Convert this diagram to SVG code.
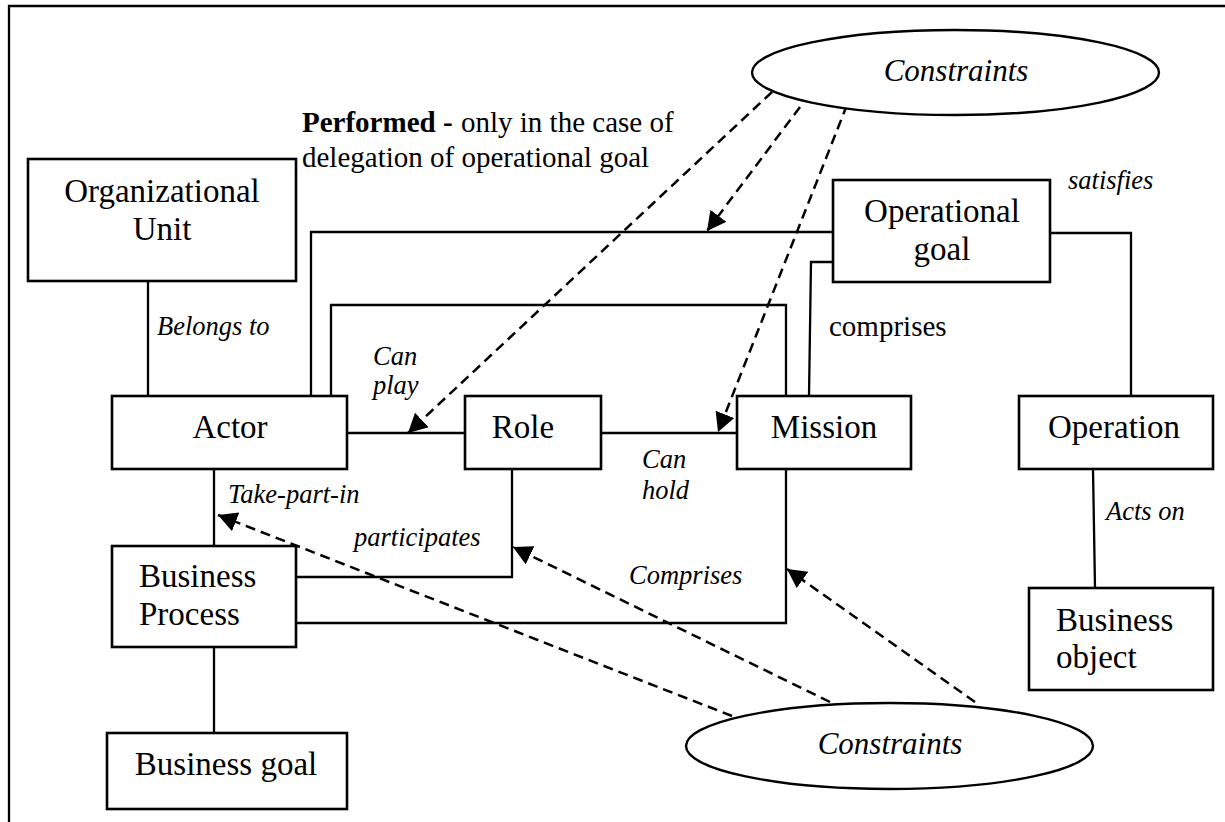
<svg xmlns="http://www.w3.org/2000/svg" width="1225" height="822" viewBox="0 0 1225 822">
<style>
.box{fill:#fff;stroke:#000;stroke-width:2.6}
.ell{fill:#fff;stroke:#000;stroke-width:2.4}
.ln{fill:none;stroke:#000;stroke-width:2.3}
.dash{fill:none;stroke:#000;stroke-width:2.5;stroke-dasharray:10 6;marker-end:url(#ah)}
text{font-family:"Liberation Serif","Times New Roman",serif;fill:#000}
.nt{font-size:33px}
.ntc{font-size:33px;text-anchor:middle}
.lab{font-size:26.5px;font-style:italic}
.reg{font-size:29px}
.con{font-size:31px;font-style:italic;text-anchor:middle}
</style>
<defs>
<marker id="ah" markerUnits="userSpaceOnUse" markerWidth="22" markerHeight="22" refX="19" refY="10" orient="auto">
<path d="M0,0 L19,10 L0,20 z" fill="#000"/>
</marker>
</defs>
<rect width="1225" height="822" fill="#fff"/>
<path class="ln" d="M9,822 L9,6 L1225,6"/>

<g id="connectors">
<path class="ln" d="M148,281 L148,396"/>
<path class="ln" d="M311,396 L311,232 L833,232"/>
<path class="ln" d="M331,396 L331,305 L786,305 L786,396"/>
<path class="ln" d="M809,396 L811,262 L833,262"/>
<path class="ln" d="M1050,233 L1131,233 L1131,396"/>
<path class="ln" d="M347,433 L465,433"/>
<path class="ln" d="M601,433 L737,433"/>
<path class="ln" d="M1093,469 L1095,588"/>
<path class="ln" d="M214,469 L214,546"/>
<path class="ln" d="M512,469 L512,577 L296,577"/>
<path class="ln" d="M296,623 L786,623 L786,469"/>
<path class="ln" d="M214,647 L214,733"/>
<path class="dash" d="M772,92 L408,433"/>
<path class="dash" d="M800,107 L707,231"/>
<path class="dash" d="M847,105 L718,432"/>
<path class="dash" d="M732,716 L218,515"/>
<path class="dash" d="M830,702 L513,547"/>
<path class="dash" d="M975,702 L787,569"/>
</g>

<g id="labels">
<text x="302" y="132" class="reg"><tspan font-weight="bold">Performed -</tspan><tspan x="461">only in the case of</tspan></text>
<text x="302" y="167" class="reg">delegation of operational goal</text>
<text x="1068" y="189" class="lab">satisfies</text>
<text x="157" y="335" class="lab">Belongs to</text>
<text x="829" y="336" class="reg">comprises</text>
<text x="373" y="365" class="lab">Can</text>
<text x="373" y="394" class="lab">play</text>
<text x="642" y="468" class="lab">Can</text>
<text x="642" y="499" class="lab">hold</text>
<text x="228" y="503" class="lab">Take-part-in</text>
<text x="1106" y="520" class="lab">Acts on</text>
<text x="354" y="546" class="lab">participates</text>
<text x="629" y="584" class="lab">Comprises</text>
</g>

<g id="constraints-top">
<ellipse class="ell" cx="955.5" cy="72.5" rx="203.5" ry="42.5"/>
<text x="956" y="81" class="con">Constraints</text>
</g>
<g id="constraints-bottom">
<ellipse class="ell" cx="889.5" cy="746" rx="203.5" ry="43"/>
<text x="890" y="754" class="con">Constraints</text>
</g>

<g id="organizational-unit">
<rect class="box" x="28" y="159" width="268" height="122"/>
<text x="162" y="202" class="ntc">Organizational</text>
<text x="162" y="240" class="ntc">Unit</text>
</g>
<g id="operational-goal">
<rect class="box" x="833" y="180" width="217" height="102"/>
<text x="942" y="222" class="ntc">Operational</text>
<text x="942" y="260" class="ntc">goal</text>
</g>
<g id="actor">
<rect class="box" x="112" y="396" width="235" height="73"/>
<text x="230" y="438" class="ntc">Actor</text>
</g>
<g id="role">
<rect class="box" x="465" y="396" width="136" height="73"/>
<text x="523" y="438" class="ntc">Role</text>
</g>
<g id="mission">
<rect class="box" x="737" y="396" width="174" height="73"/>
<text x="824" y="438" class="ntc">Mission</text>
</g>
<g id="operation">
<rect class="box" x="1019" y="396" width="194" height="73"/>
<text x="1114" y="438" class="ntc">Operation</text>
</g>
<g id="business-process">
<rect class="box" x="112" y="546" width="184" height="101"/>
<text x="139" y="587" class="nt">Business</text>
<text x="139" y="625" class="nt">Process</text>
</g>
<g id="business-object">
<rect class="box" x="1029" y="588" width="184" height="102"/>
<text x="1056" y="631" class="nt">Business</text>
<text x="1056" y="668" class="nt">object</text>
</g>
<g id="business-goal">
<rect class="box" x="107" y="733" width="240" height="76"/>
<text x="226" y="775" class="ntc">Business goal</text>
</g>
</svg>
